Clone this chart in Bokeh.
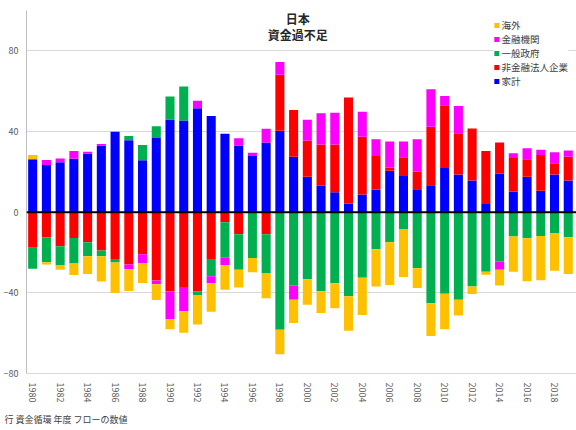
import numpy as np
from bokeh.plotting import figure
from bokeh.models import Range1d, FixedTicker, Span, Label, Legend, LegendItem, Title
from bokeh.embed import file_html
from bokeh.resources import INLINE

# 年度
years = list(range(1980, 2020))

# 資金過不足（兆円, 読み取り値）
household = [26.2, 23.4, 24.8, 26.5, 29.1, 33.1, 39.9, 35.6, 25.7, 36.8,
             46.0, 45.4, 51.5, 47.7, 38.9, 33.1, 27.8, 34.6, 40.4, 27.5,
             17.6, 13.1, 9.9, 4.3, 8.8, 11.3, 20.5, 17.9, 11.4, 13.4,
             21.9, 18.7, 15.7, 4.0, 19.0, 10.3, 17.6, 10.6, 18.7, 15.7]
corporate = [-17.7, -12.4, -16.9, -12.8, -14.9, -19.0, -23.2, -26.0, -20.9, -33.9,
             -39.4, -37.1, -39.4, -23.2, -5.0, -10.9, 0.0, -10.9, 27.8, 23.2,
             17.9, 20.5, 23.7, 52.5, 28.6, 16.6, 1.7, 9.3, 8.6, 29.0,
             31.1, 20.4, 25.8, 26.3, 15.6, 16.6, 8.6, 17.7, 5.5, 11.8]
government = [-10.4, -12.4, -9.3, -12.6, -7.0, -2.8, -1.8, 2.2, 7.6, 5.8,
              11.3, 16.9, -1.7, -8.6, -17.6, -17.6, -22.7, -19.5, -58.3, -36.4,
              -33.3, -39.2, -35.3, -41.7, -32.5, -18.4, -14.9, -8.4, -27.8, -45.2,
              -40.4, -43.4, -36.8, -29.5, -24.5, -12.1, -12.9, -11.8, -10.3, -12.4]
financial = [0.0, 2.5, 1.8, 3.8, 0.8, 0.7, 0.0, -2.2, -4.6, -1.8,
             -13.6, -11.9, 3.8, -3.5, -3.6, 3.6, 1.7, 6.8, 6.3, -7.0,
             10.3, 15.4, 15.7, 0.0, 12.4, 8.3, 12.8, 7.8, 16.1, 18.5,
             4.6, 13.6, 0.0, 0.0, -4.1, 2.3, 5.5, 2.6, 5.5, 3.1]
overseas = [2.2, -1.2, -2.3, -5.8, -8.8, -12.6, -15.1, -10.9, -9.6, -7.9,
            -5.1, -10.8, -14.6, -14.1, -12.3, -8.9, -7.1, -12.3, -12.1, -11.6,
            -12.6, -10.8, -12.4, -17.1, -18.5, -18.5, -21.2, -23.8, -9.8, -16.2,
            -17.6, -7.9, -3.8, -1.5, -7.8, -17.4, -21.4, -21.9, -18.7, -18.2]

series_names = ["家計", "非金融法人企業", "一般政府", "金融機関", "海外"]
series_values = [household, corporate, government, financial, overseas]
series_colors = ["#0000FF", "#FF0000", "#00B050", "#FF00FF", "#FFC000"]
legend_order = ["海外", "金融機関", "一般政府", "非金融法人企業", "家計"]
y_ticks = [-80, -40, 0, 40, 80]
x_ticks = list(range(1980, 2019, 2))

title_lines = ["日本", "資金過不足"]
source_text = "行 資金循環 年度 フローの数値"

FONT = "Noto Sans CJK JP"

p = figure(width=576, height=430, output_backend="svg", toolbar_location=None,
           x_range=Range1d(1979.55, 2019.6), y_range=Range1d(-80, 100),
           min_border_left=0, min_border_right=0, min_border_top=10, min_border_bottom=2)
p.outline_line_color = None
p.background_fill_color = "white"

n = len(years)
pos_base = np.zeros(n)
neg_base = np.zeros(n)
renderers = {}
for name, vals, color in zip(series_names, series_values, series_colors):
    v = np.array(vals, dtype=float)
    pos = np.where(v > 0, v, 0.0)
    neg = np.where(v < 0, v, 0.0)
    r1 = p.vbar(x=years, bottom=pos_base.copy(), top=pos_base + pos, width=0.66,
                fill_color=color, line_color=None)
    r2 = p.vbar(x=years, bottom=neg_base + neg, top=neg_base.copy(), width=0.66,
                fill_color=color, line_color=None)
    pos_base = pos_base + pos
    neg_base = neg_base + neg
    renderers[name] = [r1, r2]

# zero line
p.add_layout(Span(location=0, dimension="width", line_color="black", line_width=2))

# axes
p.yaxis.ticker = FixedTicker(ticks=y_ticks)
p.ygrid.ticker = FixedTicker(ticks=y_ticks)
p.ygrid.grid_line_color = "#d9d9d9"
p.xgrid.grid_line_color = None
p.yaxis.major_tick_line_color = None
p.yaxis.minor_tick_line_color = None
p.yaxis.axis_line_color = "#bfbfbf"
p.yaxis.major_label_text_font_size = "9px"
p.yaxis.major_label_text_color = "#595959"
p.yaxis.major_label_text_font = FONT
p.yaxis.major_label_standoff = 2

p.xaxis.ticker = FixedTicker(ticks=x_ticks)
p.xaxis.major_label_orientation = "vertical"
p.xaxis.major_tick_line_color = None
p.xaxis.minor_tick_line_color = None
p.xaxis.axis_line_color = "#d9d9d9"
p.xaxis.major_label_text_font_size = "9px"
p.xaxis.major_label_text_color = "#595959"
p.xaxis.major_label_text_font = FONT
p.xaxis.major_label_standoff = 3

# title inside plot
p.add_layout(Label(x=1999.3, y=96.0, text=title_lines[0], text_align="center",
                   text_baseline="middle", text_font=FONT, text_font_size="12px",
                   text_font_style="bold", text_color="#262626"))
p.add_layout(Label(x=1999.3, y=88.0, text=title_lines[1], text_align="center",
                   text_baseline="middle", text_font=FONT, text_font_size="12px",
                   text_font_style="bold", text_color="#262626"))

# legend
legend = Legend(items=[LegendItem(label=nm, renderers=renderers[nm]) for nm in legend_order],
                location="top_right", margin=8, padding=3, spacing=0,
                glyph_width=6, glyph_height=6, label_height=10, label_standoff=2,
                label_text_font=FONT, label_text_font_size="9.5px", label_text_color="#404040",
                border_line_color=None, background_fill_color="white", background_fill_alpha=1.0)
p.add_layout(legend)

# source note
p.add_layout(Title(text=source_text, align="left", text_font=FONT, text_font_size="9px",
                   text_color="#404040", text_font_style="normal", offset=-22), "below")

open("out.html", "w").write(file_html(p, INLINE))
